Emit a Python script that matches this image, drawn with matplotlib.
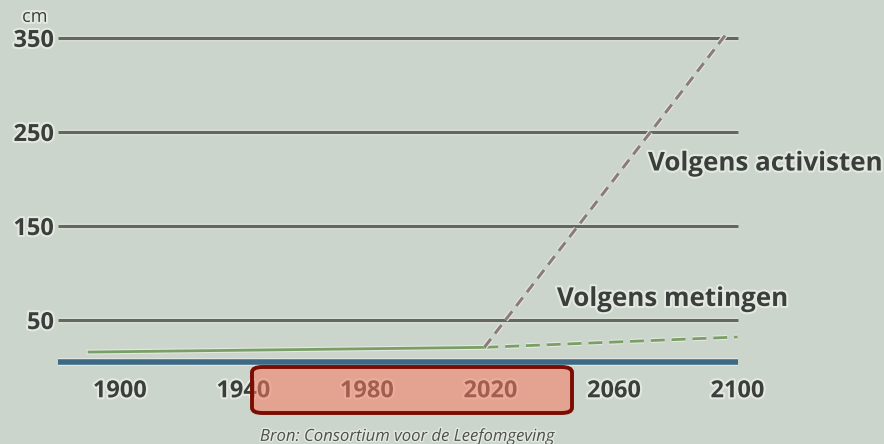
import matplotlib
matplotlib.use("Agg")
import matplotlib.pyplot as plt
import matplotlib.patheffects as pe
from matplotlib.patches import FancyBboxPatch

# Data (sea level, cm)
grid_levels = [50, 150, 250, 350]
x_ticks = [1900, 1940, 1980, 2020, 2060, 2100]
grid_span = [1880, 2100]

baseline_years = [1880, 2100]
baseline_values = [5, 5]

measured_years = [1890, 2018]
measured_values = [16, 21]

measured_proj_years = [2018, 2100]
measured_proj_values = [21, 32]

activist_years = [2018, 2097]
activist_values = [21, 357]

BG = "#ccd5cb"
TEXT = "#3a3f3b"
GRID = "#63685d"
BLUE = "#3d6985"
GREEN = "#7a9f66"
MAUVE = "#8c7b7c"
HALO = "#e3e9e1"

FONT = ["Open Sans", "DejaVu Sans"]


def halo(w=3):
    return [pe.withStroke(linewidth=w, foreground=HALO)]


def line_halo(lw):
    return [pe.Stroke(linewidth=lw + 1.6, foreground=HALO), pe.Normal()]


def main():
    fig = plt.figure(figsize=(8.84, 4.44), dpi=100)
    fig.patch.set_facecolor(BG)
    ax = fig.add_axes([0.0658, 0.152, 0.786, 0.805])
    ax.set_facecolor(BG)
    ax.set_xlim(1880, 2105)
    ax.set_ylim(-10, 370)
    for s in ax.spines.values():
        s.set_visible(False)

    ax.hlines(grid_levels, grid_span[0], grid_span[1], colors=GRID, lw=2.3,
              zorder=1, path_effects=line_halo(2.3))

    ax.plot(baseline_years, baseline_values, color=BLUE, lw=4.0,
            solid_capstyle="butt", zorder=3, path_effects=line_halo(4.0))
    ax.plot(measured_years, measured_values, color=GREEN, lw=2.0,
            zorder=3, path_effects=line_halo(2.0))
    ax.plot(measured_proj_years, measured_proj_values, color=GREEN, lw=2.0,
            ls=(0, (5, 2.5)), zorder=3, path_effects=line_halo(2.0))
    ax.plot(activist_years, activist_values, color=MAUVE, lw=2.2,
            ls=(0, (3.5, 2.2)), zorder=4, path_effects=line_halo(2.2))

    ax.set_yticks(grid_levels)
    ax.set_yticklabels([str(v) for v in grid_levels])
    ax.set_xticks(x_ticks)
    ax.set_xticklabels([str(v) for v in x_ticks])
    ax.tick_params(length=0)
    ax.tick_params(axis="y", pad=3)
    ax.tick_params(axis="x", pad=2)
    for lab in ax.get_yticklabels() + ax.get_xticklabels():
        lab.set_fontfamily(FONT)
        lab.set_fontweight("bold")
        lab.set_fontsize(17)
        lab.set_color(TEXT)
        lab.set_path_effects(halo())

    fig.text(0.025, 0.962, "cm", fontsize=13, color=TEXT, family=FONT,
             ha="left", va="center", path_effects=halo())

    ax.text(2071, 217, "Volgens activisten", fontsize=18.7, fontweight="bold",
            color=TEXT, family=FONT, ha="left", va="center", clip_on=False,
            path_effects=halo())
    ax.text(2041.5, 73, "Volgens metingen", fontsize=18.7, fontweight="bold",
            color=TEXT, family=FONT, ha="left", va="center", clip_on=False,
            path_effects=halo())

    fig.text(0.294, 0.016, "Bron: Consortium voor de Leefomgeving", fontsize=12,
             style="italic", color="#4d524d", family=FONT, ha="left",
             va="center", path_effects=halo(2))

    # highlight box overlay
    box = FancyBboxPatch((252 / 884, 1 - 413 / 444), 320 / 884, 46 / 444,
                         boxstyle="round,pad=0,rounding_size=0.012",
                         transform=fig.transFigure, facecolor="#f67a60",
                         alpha=0.55, edgecolor="none", zorder=10)
    edge = FancyBboxPatch((252 / 884, 1 - 413 / 444), 320 / 884, 46 / 444,
                          boxstyle="round,pad=0,rounding_size=0.012",
                          transform=fig.transFigure, facecolor="none",
                          edgecolor="#7a0c02", lw=2.8, zorder=11)
    fig.patches.extend([box, edge])

    fig.savefig("out.png", dpi=100, facecolor=BG)


if __name__ == "__main__":
    main()
